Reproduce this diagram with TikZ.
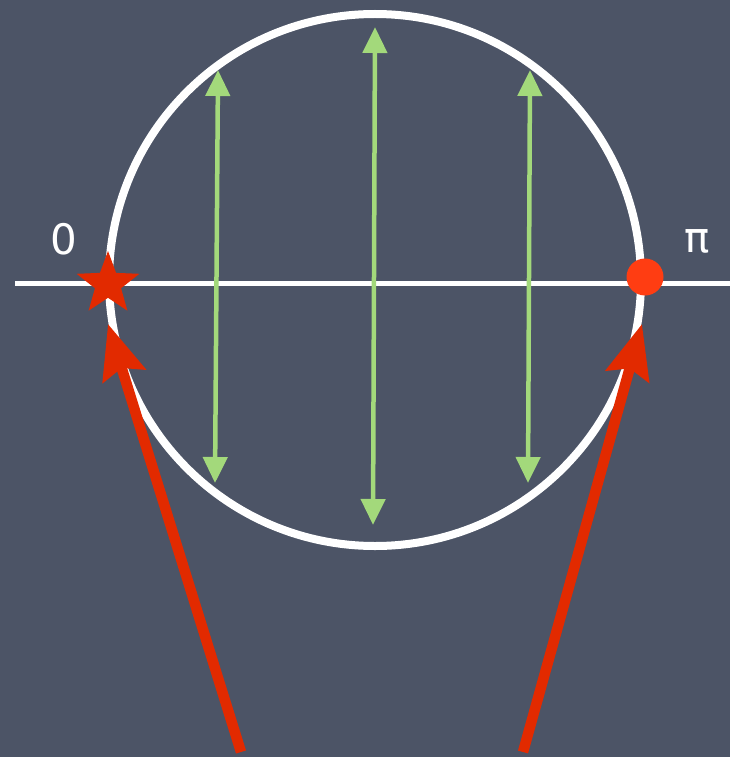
\documentclass[tikz,border=0pt]{standalone}
\usepackage{fontspec}
\setmainfont{DejaVu Sans}
\usetikzlibrary{arrows.meta,shapes.geometric}
\definecolor{board}{HTML}{4C5466}
\definecolor{chalkgreen}{HTML}{A3D97B}
\definecolor{chalkred}{HTML}{E22A00}
\definecolor{dotred}{HTML}{FF3D12}
\tikzstyle{chalk} = [white, line width=8pt]
\tikzstyle{vib} = [chalkgreen, line width=4.5pt, {Triangle[width=24pt,length=26pt]}-{Triangle[width=24pt,length=26pt]}]
\tikzstyle{pointer} = [chalkred, line width=10.5pt, -{Stealth[width=44pt,length=54pt,inset=8pt]}]
\tikzstyle{lbl} = [white, font=\fontsize{42}{42}\selectfont, inner sep=0pt]

\begin{document}
\begin{tikzpicture}[x=1pt,y=-1pt]
\useasboundingbox (0,0) rectangle (730,757);
\fill[board] (0,0) rectangle (730,757);
% string and circle
\coordinate (c) at (375,280);
\draw[chalk] (c) circle (266);
\coordinate (w) at (15,283);
\coordinate (e) at (730,283);
\draw[white, line width=5pt] (w) -- (e);
% labels
\node[lbl] (zero) at (64,239) {0};
\node[lbl] (pi) at (697,241) {π};
% green modes
\coordinate (a1) at (218,70);  \coordinate (b1) at (215,483);
\coordinate (a2) at (375,27);  \coordinate (b2) at (373,525);
\coordinate (a3) at (530,70);  \coordinate (b3) at (528,483);
\draw[vib] (b1) -- (a1);
\draw[vib] (b2) -- (a2);
\draw[vib] (b3) -- (a3);
% red pointers
\coordinate (p1) at (241,752); \coordinate (t1) at (108,324);
\coordinate (p2) at (523,752); \coordinate (t2) at (642,324);
\draw[pointer] (p1) -- (t1);
\draw[pointer] (p2) -- (t2);
% end markers
\node[star, star points=5, star point ratio=2.4, minimum size=66pt, inner sep=0pt, fill=chalkred] (fixed) at (108,284) {};
\node[circle, minimum size=37pt, inner sep=0pt, fill=dotred] (free) at (645,277) {};
\end{tikzpicture}
\end{document}
